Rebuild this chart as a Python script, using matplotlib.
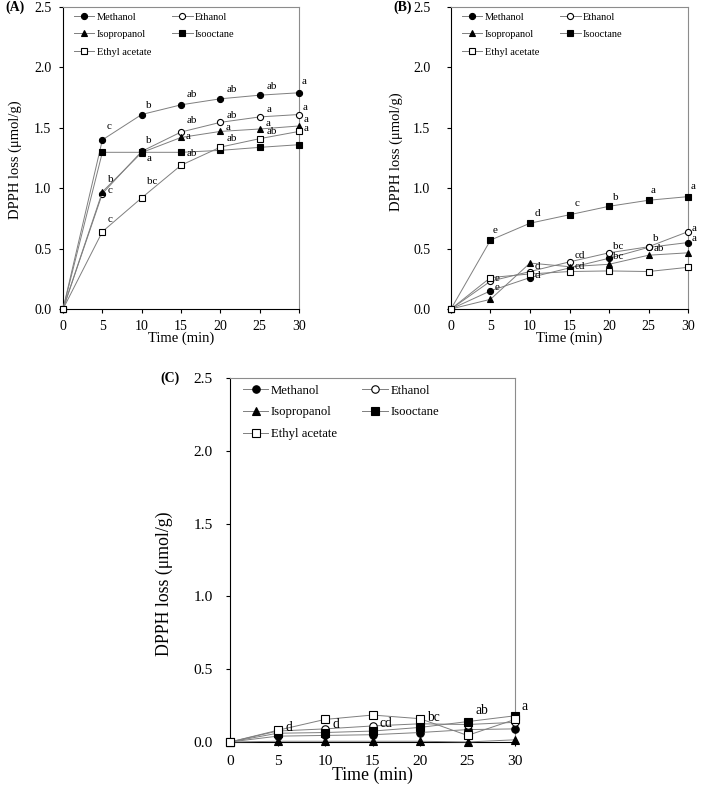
import matplotlib
matplotlib.use("Agg")
import matplotlib.pyplot as plt

plt.rcParams['font.family'] = ['Liberation Serif', 'DejaVu Serif']

time = [0, 5, 10, 15, 20, 25, 30]
solvents = ["Methanol", "Ethanol", "Isopropanol", "Isooctane", "Ethyl acetate"]

# panel A
a_methanol = [0, 1.40, 1.61, 1.69, 1.74, 1.77, 1.79]
a_ethanol = [0, 0.955, 1.305, 1.465, 1.545, 1.59, 1.61]
a_isopropanol = [0, 0.97, 1.295, 1.42, 1.47, 1.49, 1.515]
a_isooctane = [0, 1.297, 1.297, 1.297, 1.313, 1.338, 1.36]
a_ethyl = [0, 0.64, 0.92, 1.19, 1.34, 1.41, 1.47]

# panel B
b_methanol = [0, 0.15, 0.26, 0.34, 0.42, 0.51, 0.55]
b_ethanol = [0, 0.23, 0.31, 0.39, 0.465, 0.515, 0.64]
b_isopropanol = [0, 0.08, 0.38, 0.35, 0.37, 0.445, 0.465]
b_isooctane = [0, 0.57, 0.71, 0.78, 0.85, 0.90, 0.93]
b_ethyl = [0, 0.26, 0.29, 0.31, 0.315, 0.31, 0.345]

# panel C
c_methanol = [0, 0.04, 0.045, 0.05, 0.065, 0.085, 0.09]
c_ethanol = [0, 0.075, 0.09, 0.11, 0.125, 0.12, 0.135]
c_isopropanol = [0, 0.005, 0.005, 0.005, 0.005, 0.0, 0.015]
c_isooctane = [0, 0.06, 0.065, 0.075, 0.10, 0.14, 0.18]
c_ethyl = [0, 0.08, 0.155, 0.185, 0.16, 0.045, 0.155]

# significance letters: (solvent, time index, letter)
a_letters = [("Methanol", 1, "c"), ("Methanol", 2, "b"), ("Methanol", 3, "ab"),
             ("Methanol", 4, "ab"), ("Methanol", 5, "ab"), ("Methanol", 6, "a"),
             ("Ethanol", 1, "c"), ("Ethanol", 2, "b"), ("Ethanol", 3, "ab"),
             ("Ethanol", 4, "ab"), ("Ethanol", 5, "a"), ("Ethanol", 6, "a"),
             ("Isopropanol", 1, "b"), ("Isopropanol", 2, "a"), ("Isopropanol", 3, "a"),
             ("Isopropanol", 4, "a"), ("Isopropanol", 5, "a"), ("Isopropanol", 6, "a"),
             ("Isooctane", 3, "ab"),
             ("Ethyl acetate", 1, "c"), ("Ethyl acetate", 2, "bc"), ("Ethyl acetate", 4, "ab"),
             ("Ethyl acetate", 5, "ab"), ("Ethyl acetate", 6, "a")]
b_letters = [("Isooctane", 1, "e"), ("Isooctane", 2, "d"), ("Isooctane", 3, "c"),
             ("Isooctane", 4, "b"), ("Isooctane", 5, "a"), ("Isooctane", 6, "a"),
             ("Ethanol", 1, "e"), ("Ethanol", 2, "d"), ("Ethanol", 3, "cd"),
             ("Ethanol", 4, "bc"), ("Ethanol", 5, "b"), ("Ethanol", 6, "a"),
             ("Methanol", 1, "e"), ("Methanol", 2, "d"), ("Methanol", 3, "cd"),
             ("Methanol", 4, "bc"), ("Methanol", 5, "ab"), ("Methanol", 6, "a")]
c_letters = [("Ethyl acetate", 1, "d"), ("Ethanol", 2, "d"), ("Ethanol", 3, "cd"),
             ("Ethyl acetate", 4, "bc"), ("Isooctane", 5, "ab"), ("Isooctane", 6, "a")]

# offsets of the letters from their point, in pixels (x right, y up)
a_offsets = [(7, 13), (7, 9), (11, 10), (11, 9), (12, 9), (5, 11),
             (8, 3), (7, 11), (11, 12), (11, 7), (9, 7), (6, 7),
             (8, 12), (7, -6), (7, 1), (8, 4), (8, 5), (7, 6),
             (11, -1),
             (8, 12), (10, 16), (11, 9), (12, 7), (7, 3)]
b_offsets = [(5, 10), (7, 10), (8, 11), (7, 9), (5, 10), (5, 10),
             (7, 3), (7, 5), (10, 6), (9, 6), (7, 8), (6, 3),
             (7, 3), (7, 2), (10, 1), (9, 2), (10, -1), (6, 4)]
c_offsets = [(9, 2), (9, 4), (11, 2), (11, 1), (12, 9), (8, 8)]

markers = {"Methanol": ("o", "black"), "Ethanol": ("o", "white"),
           "Isopropanol": ("^", "black"), "Isooctane": ("s", "black"),
           "Ethyl acetate": ("s", "white")}


def draw_panel(ax, values, letters, offsets, tag, ypad, ylab_pos, s=1.0):
    lines = {}
    for name, vals in zip(solvents, values):
        m, fc = markers[name]
        ln, = ax.plot(time, vals, color='#7f7f7f', lw=0.7, marker=m,
                      markersize=4.4 * s, markerfacecolor=fc,
                      markeredgecolor='black', markeredgewidth=0.8,
                      label=name, clip_on=False, zorder=3)
        lines[name] = ln
    series = dict(zip(solvents, values))
    for (name, i, txt), (dx, dy) in zip(letters, offsets):
        ax.annotate(txt, (time[i], series[name][i]), xytext=(dx * s, dy * s),
                    textcoords='offset pixels', ha='center', va='center',
                    fontsize=8 * s)
    ax.set_xlim(0, 30)
    ax.set_ylim(0, 2.5)
    ax.set_xticks(time)
    ax.set_yticks([0, 0.5, 1.0, 1.5, 2.0, 2.5])
    ax.set_yticklabels(["0.0", "0.5", "1.0", "1.5", "2.0", "2.5"])
    fs = 10 * (1 + (s - 1) * 0.5)
    ax.tick_params(direction='out', length=3, width=0.8, labelsize=fs)
    ax.tick_params(axis='x', pad=5 * s)
    ax.tick_params(axis='y', pad=ypad)
    ax.set_xlabel("Time (min)", fontsize=10.5 * s, labelpad=-1)
    ax.set_ylabel("DPPH loss (\u03bcmol/g)", fontsize=10.5 * s)
    ax.yaxis.set_label_coords(*ylab_pos)
    for side in ['top', 'right']:
        ax.spines[side].set_color('#8c8c8c')
        ax.spines[side].set_linewidth(0.8)
    order = ["Methanol", "Isopropanol", "Ethyl acetate", "Ethanol", "Isooctane"]
    ax.legend([lines[n] for n in order], order, loc='upper left',
              bbox_to_anchor=(0.045, 0.982), ncol=2, frameon=False,
              fontsize=7.5 * s, handlelength=2.0, handletextpad=0.2,
              columnspacing=2.0, labelspacing=0.78, borderpad=0,
              borderaxespad=0)
    ax.text(-0.245, 1.0, tag, transform=ax.transAxes, fontsize=10,
            fontweight='bold', ha='left', va='center')


fig = plt.figure(figsize=(7.09, 7.86), dpi=100)
ax_a = fig.add_axes([0.0889, 0.6069, 0.3329, 0.3842])
ax_b = fig.add_axes([0.6361, 0.6069, 0.3343, 0.3842])
ax_c = fig.add_axes([0.3244, 0.0560, 0.4020, 0.4631])

draw_panel(ax_a, [a_methanol, a_ethanol, a_isopropanol, a_isooctane, a_ethyl],
           a_letters, a_offsets, "(A)", 5.5, (-0.174, 0.493))
draw_panel(ax_b, [b_methanol, b_ethanol, b_isopropanol, b_isooctane, b_ethyl],
           b_letters, b_offsets, "(B)", 12, (-0.203, 0.52))
draw_panel(ax_c, [c_methanol, c_ethanol, c_isopropanol, c_isooctane, c_ethyl],
           c_letters, c_offsets, "(C)", 9.5, (-0.2, 0.434), s=1.22)

fig.savefig("out.png", dpi=100)
